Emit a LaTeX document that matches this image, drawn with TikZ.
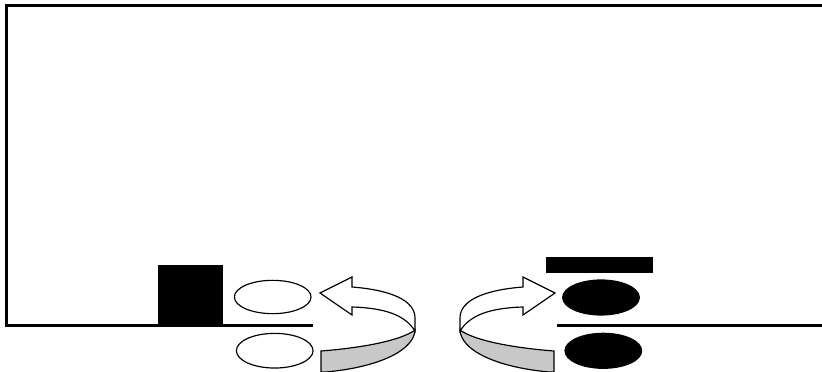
\documentclass[tikz,border=0pt]{standalone}
\usepackage{xcolor}
\usepackage{tikz}
\usetikzlibrary{shapes.geometric}
\definecolor{ink}{HTML}{000000}
\definecolor{band}{HTML}{C8C8C8}
\tikzset{
    every picture/.style={line join=miter},
    wall/.style={draw=ink,line width=0.9mm},
    disc/.style={draw=ink,ellipse,line width=1pt,inner sep=0pt,
      minimum width=23mm,minimum height=10mm},
    hollow/.style={fill=white},
    solid/.style={fill=ink},
    block/.style={fill=ink,draw=none,rectangle,inner sep=0pt},
    turnarrow/.pic={
      % back half of the ribbon, ending in the head
      \path[draw=ink,fill=white,line width=1pt]
        (352,287) .. controls (390,290) and (415,300) .. (415,318)
        -- (415,331) .. controls (405,315) and (385,308) .. (352,307)
        -- (352,315) -- (320,293) -- (352,277) -- cycle;
      % front half, shaded
      \path[draw=ink,fill=band,line width=1pt]
        (321,372) -- (321,351) .. controls (360,348) and (400,341) .. (415,330)
        .. controls (414,350) and (380,367) .. (326,372) -- cycle;
    }
}
\begin{document}
\begin{tikzpicture}[x=0.3mm,y=-0.3mm]
  \useasboundingbox (0,0) rectangle (822,372);

  % frame and floor
  \coordinate (tr) at (822,5.5);
  \coordinate (tl) at (6.5,5.5);
  \coordinate (bl) at (6.5,326);
  \coordinate (gapL) at (313,326);
  \coordinate (gapR) at (557,326);
  \coordinate (br) at (822,326);
  \draw[wall] (tr) -- (tl) -- (bl) -- (gapL);
  \draw[wall] (gapR) -- (br);

  % left side
  \node[block,minimum width=19.5mm,minimum height=18.3mm] (box) at (190.8,295.5) {};
  \node[disc,hollow] (upL) at (272.7,297) {};
  \node[disc,hollow,minimum height=10.4mm] (loL) at (274.7,350.7) {};

  % right side
  \node[block,minimum width=32.1mm,minimum height=4.8mm] (bar) at (599.5,265) {};
  \node[disc,solid,minimum height=10.5mm] (upR) at (601,297.5) {};
  \node[disc,solid,minimum height=10.5mm] (loR) at (603.3,350.8) {};

  % the two turning arrows
  \pic at (0,0) {turnarrow};
  \pic[xscale=-1] at (875,0) {turnarrow};
\end{tikzpicture}
\end{document}
